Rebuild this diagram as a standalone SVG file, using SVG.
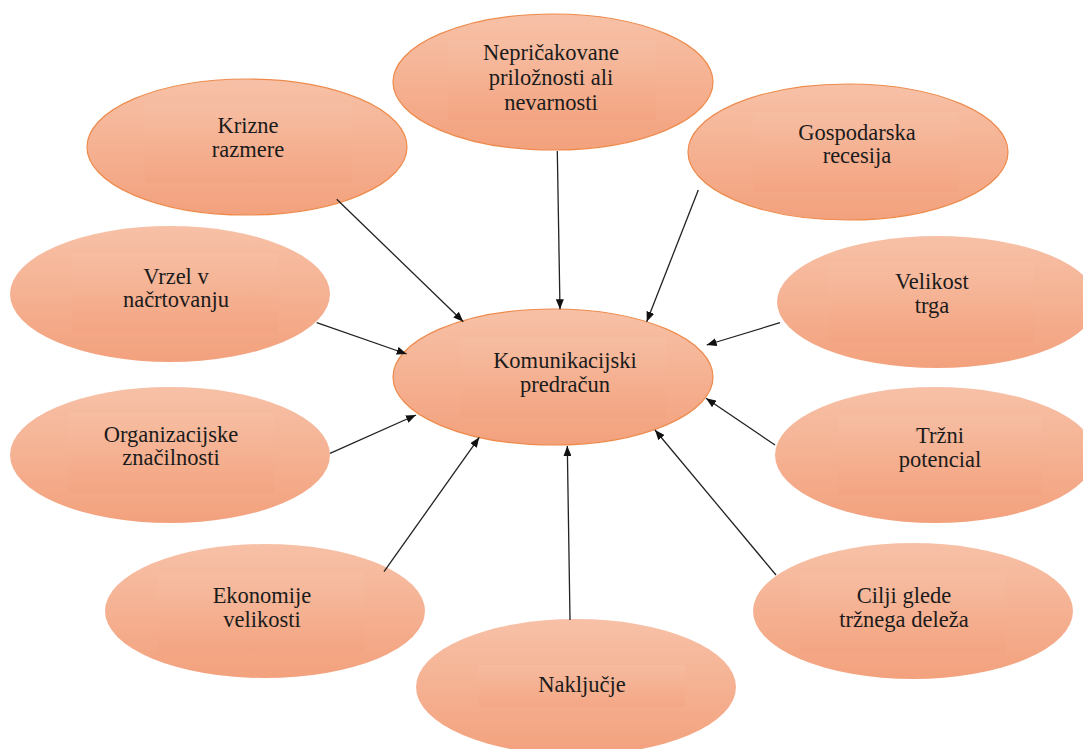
<svg xmlns="http://www.w3.org/2000/svg" width="1083" height="749" viewBox="0 0 1083 749">
<defs>
<linearGradient id="g" x1="0" y1="0" x2="0" y2="1">
<stop offset="0" stop-color="#F7C1A7"/>
<stop offset="1" stop-color="#F3A17D"/>
</linearGradient>
<marker id="ah" viewBox="0 0 10 8" refX="10" refY="4" markerWidth="10" markerHeight="8" markerUnits="userSpaceOnUse" orient="auto">
<path d="M0,0 L10,4 L0,8 z" fill="#111"/>
</marker>
</defs>
<style>
.e{fill:url(#g);}
.s{stroke:#EE8B4C;stroke-width:1.2;}
.tb{fill:url(#g);opacity:0.45;}
text{font-family:"Liberation Serif","DejaVu Serif",serif;font-size:22.5px;fill:#1b1b1b;text-anchor:middle;}
.c line{stroke:#222;stroke-width:1.3;marker-end:url(#ah);}
</style>
<rect width="1083" height="749" fill="#fff"/>

<g id="n-nepricakovane" font-family="Liberation Serif, serif">
<ellipse class="e s" cx="553" cy="82" rx="160" ry="68"/>
<rect class="tb" x="448" y="40" width="208" height="80"/>
<text x="551" y="60">Nepričakovane</text>
<text x="551" y="85">priložnosti ali</text>
<text x="551" y="110">nevarnosti</text>
</g>

<g id="n-krizne" font-family="Liberation Serif, serif">
<ellipse class="e s" cx="247" cy="147" rx="160" ry="68"/>
<rect class="tb" x="145" y="103" width="207" height="80"/>
<text x="248" y="133">Krizne</text>
<text x="248" y="157">razmere</text>
</g>

<g id="n-gospodarska" font-family="Liberation Serif, serif">
<ellipse class="e s" cx="848" cy="152" rx="160" ry="68"/>
<rect class="tb" x="753" y="112" width="206" height="80"/>
<text x="857" y="140">Gospodarska</text>
<text x="857" y="163">recesija</text>
</g>

<g id="n-vrzel" font-family="Liberation Serif, serif">
<ellipse class="e" cx="170" cy="294" rx="160" ry="68"/>
<rect class="tb" x="72" y="253" width="206" height="80"/>
<text x="176" y="284">Vrzel v</text>
<text x="176" y="307">načrtovanju</text>
</g>

<g id="n-velikost" font-family="Liberation Serif, serif">
<ellipse class="e" cx="937" cy="302" rx="160" ry="66"/>
<rect class="tb" x="828" y="262" width="206" height="80"/>
<text x="932" y="289">Velikost</text>
<text x="932" y="313">trga</text>
</g>

<g id="n-center" font-family="Liberation Serif, serif">
<ellipse class="e s" cx="553" cy="377" rx="160" ry="68"/>
<rect class="tb" x="460" y="338" width="206" height="80"/>
<text x="565" y="368">Komunikacijski</text>
<text x="565" y="392">predračun</text>
</g>

<g id="n-organizacijske" font-family="Liberation Serif, serif">
<ellipse class="e" cx="170" cy="455" rx="160" ry="68"/>
<rect class="tb" x="68" y="413" width="206" height="80"/>
<text x="171" y="442">Organizacijske</text>
<text x="171" y="465">značilnosti</text>
</g>

<g id="n-trzni" font-family="Liberation Serif, serif">
<ellipse class="e" cx="935" cy="455" rx="160" ry="68"/>
<rect class="tb" x="838" y="415" width="204" height="80"/>
<text x="940" y="443">Tržni</text>
<text x="940" y="467">potencial</text>
</g>

<g id="n-ekonomije" font-family="Liberation Serif, serif">
<ellipse class="e" cx="265" cy="611" rx="160" ry="67"/>
<rect class="tb" x="158" y="573" width="206" height="80"/>
<text x="262" y="603">Ekonomije</text>
<text x="262" y="627">velikosti</text>
</g>

<g id="n-cilji" font-family="Liberation Serif, serif">
<ellipse class="e" cx="913" cy="611" rx="160" ry="68"/>
<rect class="tb" x="800" y="573" width="206" height="80"/>
<text x="904" y="603">Cilji glede</text>
<text x="904" y="627">tržnega deleža</text>
</g>

<g id="n-nakljucje" font-family="Liberation Serif, serif">
<ellipse class="e" cx="576" cy="687" rx="160" ry="68"/>
<rect class="tb" x="479" y="665" width="206" height="42"/>
<text x="582" y="692">Naključje</text>
</g>

<g id="connectors" class="c">
<line x1="336.7" y1="199.3" x2="463.3" y2="321.7"/>
<line x1="557.3" y1="151" x2="560" y2="309.3"/>
<line x1="698.3" y1="190" x2="646.7" y2="321.7"/>
<line x1="316.7" y1="322.7" x2="406.7" y2="354"/>
<line x1="780" y1="322.7" x2="706.7" y2="345"/>
<line x1="330" y1="453.3" x2="416" y2="415"/>
<line x1="775" y1="445" x2="706" y2="398.3"/>
<line x1="384" y1="571.7" x2="479.3" y2="437.3"/>
<line x1="570" y1="620" x2="567.3" y2="446"/>
<line x1="776" y1="575" x2="655" y2="430"/>
</g>
</svg>
